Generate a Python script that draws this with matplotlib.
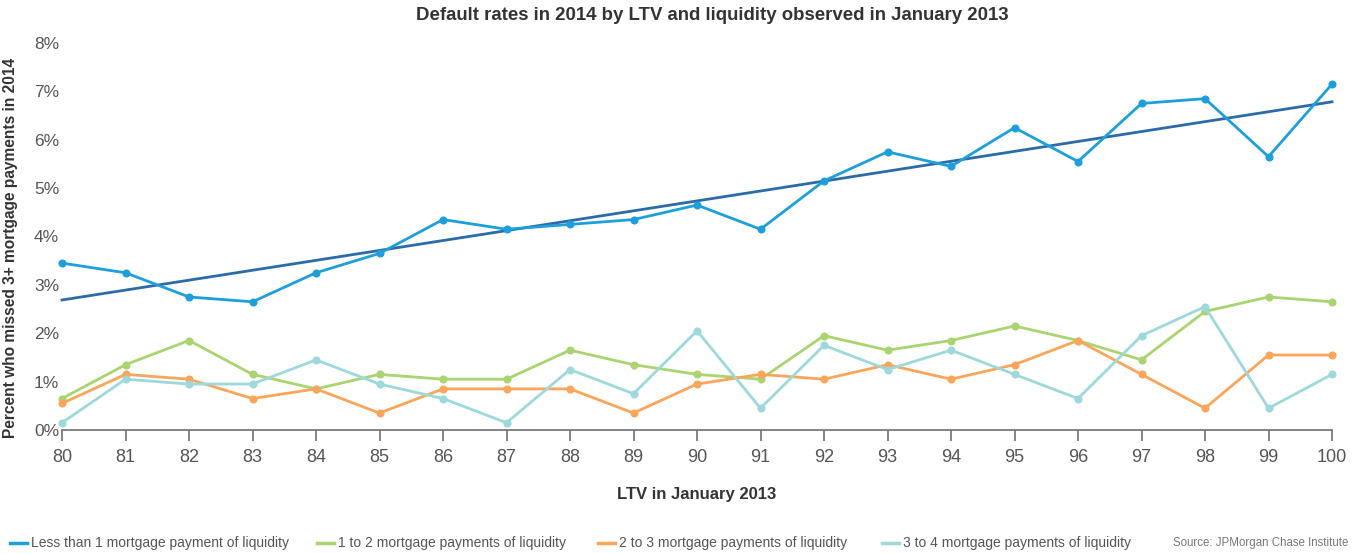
import numpy as np
import matplotlib.pyplot as plt
from matplotlib.lines import Line2D

plt.rcParams['font.family'] = ['Liberation Sans', 'DejaVu Sans']

ltv = list(range(80, 101))
less_than_1 = [3.45, 3.25, 2.75, 2.65, 3.25, 3.65, 4.35, 4.15, 4.25, 4.35, 4.65,
               4.15, 5.15, 5.75, 5.45, 6.25, 5.55, 6.75, 6.85, 5.65, 7.15]
one_to_2 = [0.65, 1.35, 1.85, 1.15, 0.85, 1.15, 1.05, 1.05, 1.65, 1.35, 1.15,
            1.05, 1.95, 1.65, 1.85, 2.15, 1.85, 1.45, 2.45, 2.75, 2.65]
two_to_3 = [0.55, 1.15, 1.05, 0.65, 0.85, 0.35, 0.85, 0.85, 0.85, 0.35, 0.95,
            1.15, 1.05, 1.35, 1.05, 1.35, 1.85, 1.15, 0.45, 1.55, 1.55]
three_to_4 = [0.15, 1.05, 0.95, 0.95, 1.45, 0.95, 0.65, 0.15, 1.25, 0.75, 2.05,
              0.45, 1.75, 1.25, 1.65, 1.15, 0.65, 1.95, 2.55, 0.45, 1.15]
labels = ['Less than 1 mortgage payment of liquidity',
          '1 to 2 mortgage payments of liquidity',
          '2 to 3 mortgage payments of liquidity',
          '3 to 4 mortgage payments of liquidity']
colors = ['#1d9fdc', '#a9d46f', '#f9a65a', '#9dd8da']
trend_color = '#2b6ca8'
grey = '#555555'

W, H = 1360, 554
fig = plt.figure(figsize=(W/100, H/100), dpi=100)
ax = fig.add_axes([62/W, 124/H, 1270/W, 387/H])

# linear trend of the lowest-liquidity group
k, b = np.polyfit(ltv, less_than_1, 1)
x = np.array(ltv, dtype=float)
ax.plot(x, k*x + b, color=trend_color, lw=2.0, zorder=2, clip_on=False)

series = [less_than_1, one_to_2, two_to_3, three_to_4]
for vals, c in zip(series, colors):
    ax.plot(ltv, vals, color=c, lw=2.0, marker='o', ms=4.8, zorder=3, clip_on=False)

ax.set_xlim(80, 100)
ax.set_ylim(0, 8)
ax.set_xticks(ltv)
ax.set_yticks(range(0, 9))
ax.set_yticklabels([f'{v}%' for v in range(0, 9)])
for s in ['top', 'right', 'left']:
    ax.spines[s].set_visible(False)
ax.spines['bottom'].set_color('#6f6f6f')
ax.spines['bottom'].set_linewidth(1.2)
ax.tick_params(axis='x', length=8, width=1.2, color='#6f6f6f', colors=grey,
               labelsize=13, pad=6)
ax.tick_params(axis='y', length=0, colors=grey, labelsize=12.5, pad=2)

fig.text(712/W, 1 - 16/H, 'Default rates in 2014 by LTV and liquidity observed in January 2013',
         ha='center', va='center', fontsize=13.4, fontweight='bold', color='#333333')
fig.text(697/W, 1 - 495/H, 'LTV in January 2013', ha='center', va='center',
         fontsize=12, fontweight='bold', color='#333333')
ax.set_ylabel('Percent who missed 3+ mortgage payments in 2014', fontsize=11.2,
              fontweight='bold', color='#333333')
ax.yaxis.set_label_coords(-0.0346, 0.4716)

# legend row along the bottom
leg_x = [10, 317, 598, 882]
leg_y = 1 - 543/H
for x0, lab, c in zip(leg_x, labels, colors):
    fig.add_artist(Line2D([x0/W, (x0 + 17)/W], [leg_y, leg_y], color=c, lw=2.5,
                          transform=fig.transFigure))
    fig.text((x0 + 21)/W, leg_y, lab, ha='left', va='center', fontsize=10,
             color=grey)
fig.text(1348/W, leg_y, 'Source: JPMorgan Chase Institute', ha='right', va='center',
         fontsize=8.3, color='#777777')

fig.savefig('out.png', dpi=100)
